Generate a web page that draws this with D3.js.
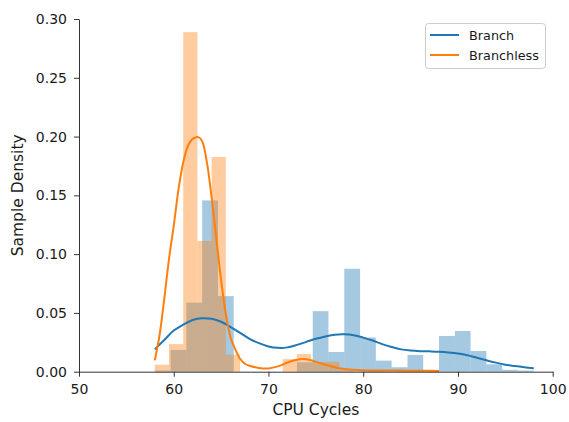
<!DOCTYPE html>
<html>
<head>
<meta charset="utf-8">
<script src="https://cdn.jsdelivr.net/npm/d3@7/dist/d3.min.js"></script>
<style>
  html, body { margin: 0; padding: 0; background: #ffffff; }
  svg { display: block; }
  text { font-family: "DejaVu Sans", sans-serif; fill: #1a1a1a; }
</style>
</head>
<body>
<svg id="chart" width="569" height="422"></svg>
<script>
// ---- data ----
const seriesNames = ["Branch", "Branchless"];
const seriesColors = ["#1f77b4", "#ff7f0e"];

// Branch histogram: bin edges and densities
const branchEdges = [58, 59.67, 61.33, 63, 64.67, 66.33, 68, 69.67, 71.33, 73, 74.67, 76.33,
  78, 79.67, 81.33, 83, 84.67, 86.33, 88, 89.67, 91.33, 93, 94.67, 96.33, 98];
const branchDensity = [0.001, 0.0185, 0.0587, 0.1457, 0.0643, 0, 0, 0, 0, 0.0080, 0.0515, 0.0168,
  0.0876, 0.0291, 0.0094, 0.0038, 0.0143, 0, 0.0304, 0.0346, 0.0176, 0.0063, 0.0016, 0.001];

// Branchless histogram: bin edges and densities
const branchlessEdges = [58, 59.5, 61, 62.5, 64, 65.5, 67, 68.5, 70, 71.5, 73, 74.5, 76, 77.5,
  79, 80.5, 82, 83.5, 85, 86.5, 88];
const branchlessDensity = [0.006, 0.0235, 0.2888, 0.1112, 0.1826, 0.0145, 0, 0, 0, 0.0107, 0.0150,
  0.0083, 0.0083, 0.0015, 0, 0.0015, 0, 0.0015, 0.0015, 0.0015];

// KDE curves
const branchKdeX = [58, 59, 60, 61, 62, 63, 64, 65, 66, 67, 68, 69, 70, 71, 72, 73, 74, 75, 76, 77,
  78, 79, 80, 81, 82, 83, 84, 85, 86, 87, 88, 89, 90, 91, 92, 93, 94, 95, 96, 97, 98];
const branchKdeY = [0.019, 0.027, 0.035, 0.040, 0.044, 0.0455, 0.045, 0.0425, 0.038, 0.033, 0.028,
  0.0243, 0.0215, 0.0203, 0.0207, 0.0228, 0.0254, 0.028, 0.030, 0.0315, 0.0318, 0.031, 0.029,
  0.0265, 0.0235, 0.021, 0.019, 0.018, 0.0175, 0.0173, 0.017, 0.0164, 0.0155, 0.014, 0.0118,
  0.0097, 0.0077, 0.006, 0.0048, 0.0038, 0.003];
const branchlessKdeX = [58, 58.5, 59, 59.5, 60, 60.5, 61, 61.5, 62, 62.6, 63, 63.5, 64, 64.5, 65,
  65.5, 66, 66.5, 67, 67.5, 68, 69, 70, 71, 72, 73, 73.7, 74.5, 75.5, 76.5, 77.5, 78.5, 80, 82,
  84, 86, 88];
const branchlessKdeY = [0.0096, 0.031, 0.062, 0.096, 0.124, 0.155, 0.178, 0.192, 0.198, 0.1995,
  0.196, 0.178, 0.148, 0.113, 0.078, 0.049, 0.029, 0.019, 0.011, 0.0068, 0.005, 0.0032, 0.0028,
  0.0045, 0.0078, 0.0102, 0.0108, 0.0097, 0.0072, 0.0048, 0.0030, 0.0018, 0.0012, 0.001, 0.001,
  0.0008, 0.0006];

const xTicks = [50, 60, 70, 80, 90, 100];
const yTicks = [0, 0.05, 0.10, 0.15, 0.20, 0.25, 0.30];
const xLabel = "CPU Cycles";
const yLabel = "Sample Density";

// ---- drawing ----
const svg = d3.select("#chart");
const W = 569, H = 422;
const plot = { left: 79, right: 552.7, top: 19, bottom: 371.7 };

const x = d3.scaleLinear().domain([50, 100]).range([plot.left, plot.right]);
const y = d3.scaleLinear().domain([0, 0.30]).range([plot.bottom, plot.top]);

const hists = [
  { edges: branchEdges, dens: branchDensity, color: seriesColors[0] },
  { edges: branchlessEdges, dens: branchlessDensity, color: seriesColors[1] }
];

// bars (all patches first, like matplotlib zorder)
hists.forEach(h => {
  const bins = h.dens.map((d, i) => ({ x0: h.edges[i], x1: h.edges[i + 1], v: d }));
  svg.append("g").selectAll("rect").data(bins).join("rect")
    .attr("x", d => x(d.x0))
    .attr("width", d => x(d.x1) - x(d.x0))
    .attr("y", d => y(d.v))
    .attr("height", d => y(0) - y(d.v))
    .attr("fill", h.color)
    .attr("fill-opacity", 0.4);
});

// KDE lines
const kdes = [
  { xs: branchKdeX, ys: branchKdeY, color: seriesColors[0] },
  { xs: branchlessKdeX, ys: branchlessKdeY, color: seriesColors[1] }
];
const line = d3.line().x(d => x(d[0])).y(d => y(d[1])).curve(d3.curveCatmullRom.alpha(0.5));
kdes.forEach(k => {
  svg.append("path")
    .datum(k.xs.map((v, i) => [v, k.ys[i]]))
    .attr("d", line)
    .attr("fill", "none")
    .attr("stroke", k.color)
    .attr("stroke-width", 2);
});

// axes
const xAxis = svg.append("g")
  .attr("transform", `translate(0,${plot.bottom})`)
  .call(d3.axisBottom(x).tickValues(xTicks).tickFormat(d3.format("d")).tickSize(5).tickPadding(7).tickSizeOuter(0));
const yAxis = svg.append("g")
  .attr("transform", `translate(${plot.left},0)`)
  .call(d3.axisLeft(y).tickValues(yTicks).tickFormat(d3.format(".2f")).tickSize(5).tickPadding(7).tickSizeOuter(0));
[xAxis, yAxis].forEach(a => {
  a.select(".domain").attr("stroke", "#333").attr("stroke-width", 1);
  a.selectAll(".tick line").attr("stroke", "#333").attr("stroke-width", 1);
  a.selectAll(".tick text").attr("font-size", 14).attr("font-family", "DejaVu Sans").attr("fill", "#1a1a1a");
});

// axis labels
svg.append("text")
  .attr("x", (plot.left + plot.right) / 2)
  .attr("y", 414.5)
  .attr("text-anchor", "middle")
  .attr("font-size", 15.5)
  .text(xLabel);
svg.append("text")
  .attr("transform", `translate(23,${(plot.top + plot.bottom) / 2}) rotate(-90)`)
  .attr("text-anchor", "middle")
  .attr("font-size", 15.5)
  .text(yLabel);

// legend
const lg = svg.append("g");
lg.append("rect")
  .attr("x", 425.5).attr("y", 23.5).attr("width", 120).attr("height", 45)
  .attr("rx", 3).attr("ry", 3)
  .attr("fill", "#ffffff").attr("fill-opacity", 0.8)
  .attr("stroke", "#cccccc").attr("stroke-width", 1);
seriesNames.forEach((name, i) => {
  const cy = 35 + i * 20;
  lg.append("line")
    .attr("x1", 430).attr("x2", 459).attr("y1", cy).attr("y2", cy)
    .attr("stroke", seriesColors[i]).attr("stroke-width", 2);
  lg.append("text")
    .attr("x", 469).attr("y", cy + 4.6)
    .attr("font-size", 12.8)
    .text(name);
});
</script>
</body>
</html>
